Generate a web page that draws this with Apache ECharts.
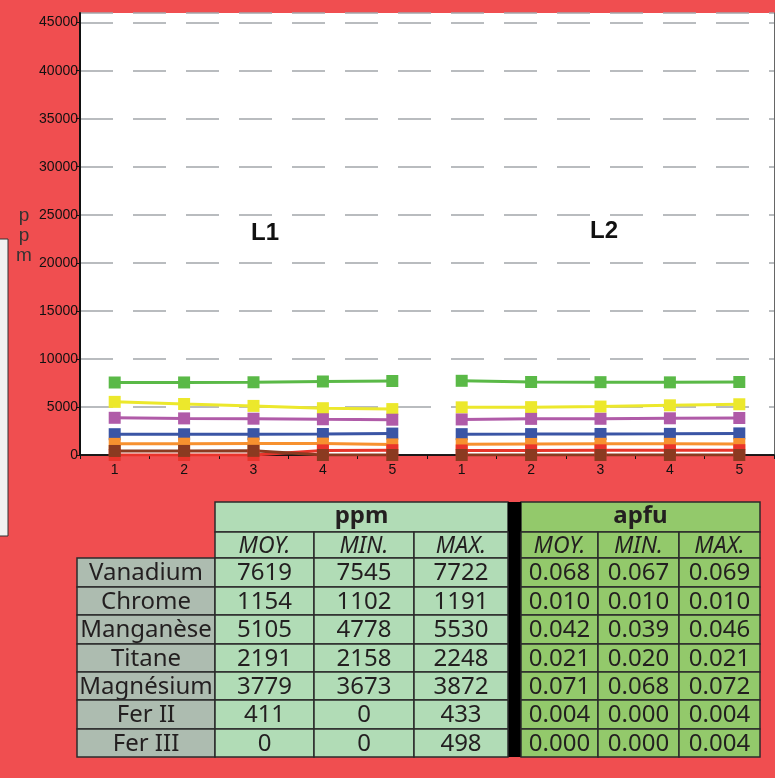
<!DOCTYPE html>
<html>
<head>
<meta charset="utf-8">
<script src="https://cdn.jsdelivr.net/npm/echarts@6/dist/echarts.min.js"></script>
<style>
  html, body { margin: 0; padding: 0; background: #f04e50; }
  #chart { width: 775px; height: 778px; }
</style>
</head>
<body>
<div id="chart"></div>
<script>
// categories (x axis): points 1..5 for L1 then 1..5 for L2
var categories = ['1', '2', '3', '4', '5', '1', '2', '3', '4', '5'];
var yTicks = [0, 5000, 10000, 15000, 20000, 25000, 30000, 35000, 40000, 45000];

// ppm values read from the profiles
var vanadiumL1 = [7545, 7550, 7570, 7650, 7700];
var vanadiumL2 = [7722, 7600, 7580, 7560, 7600];
var chromeL1 = [1160, 1180, 1191, 1185, 1102];
var chromeL2 = [1120, 1150, 1165, 1160, 1140];
var manganeseL1 = [5530, 5310, 5110, 4870, 4778];
var manganeseL2 = [4960, 4980, 5040, 5170, 5280];
var titaneL1 = [2165, 2158, 2170, 2185, 2230];
var titaneL2 = [2170, 2175, 2190, 2200, 2248];
var magnesiumL1 = [3872, 3810, 3780, 3720, 3673];
var magnesiumL2 = [3700, 3760, 3770, 3820, 3850];
var fer3L1 = [0, 0, 0, 480, 498];
var fer3L2 = [470, 480, 485, 490, 498];
var fer2L1 = [420, 425, 433, 0, 0];
var fer2L2 = [0, 0, 0, 0, 0];

// table
var tableRows = ['Vanadium', 'Chrome', 'Manganèse', 'Titane', 'Magnésium', 'Fer II', 'Fer III'];
var subHeads = ['MOY.', 'MIN.', 'MAX.'];
var ppmMoy = [7619, 1154, 5105, 2191, 3779, 411, 0];
var ppmMin = [7545, 1102, 4778, 2158, 3673, 0, 0];
var ppmMax = [7722, 1191, 5530, 2248, 3872, 433, 498];
var apfuMoy = ['0.068', '0.010', '0.042', '0.021', '0.071', '0.004', '0.000'];
var apfuMin = ['0.067', '0.010', '0.039', '0.020', '0.068', '0.000', '0.000'];
var apfuMax = ['0.069', '0.010', '0.046', '0.021', '0.072', '0.004', '0.004'];

var chart = echarts.init(document.getElementById('chart'));

var pad = [null, null, null, null, null];
function profile(name, color, l1, l2) {
  var base = {
    name: name, type: 'line', symbol: 'rect', symbolSize: 12,
    itemStyle: { color: color }, lineStyle: { color: color, width: 3 },
    animation: false
  };
  return [
    Object.assign({}, base, { data: l1.concat(pad) }),
    Object.assign({}, base, { data: pad.concat(l2) })
  ];
}

var series = [].concat(
  profile('Vanadium', '#5ab947', vanadiumL1, vanadiumL2),
  profile('Manganèse', '#ece82c', manganeseL1, manganeseL2),
  profile('Magnésium', '#b05ba8', magnesiumL1, magnesiumL2),
  profile('Titane', '#3a55a5', titaneL1, titaneL2),
  profile('Chrome', '#f7912f', chromeL1, chromeL2),
  profile('Fer III', '#e9342b', fer3L1, fer3L2),
  profile('Fer II', '#8b3a20', fer2L1, fer2L2)
);

// table graphics
var colX = [77, 215, 314, 414, 508, 521, 598, 679, 760];
var rowY = [502, 532, 558, 587, 615, 644, 672, 700, 729, 757];
var lblFill = '#adbcb0', ppmFill = '#b1dcb6', apfuFill = '#93c96b', lineCol = '#2b2b2b';
var txtCol = '#231f20';
var g = [];
function rect(x, y, w, h, fill) {
  g.push({ type: 'rect', shape: { x: x, y: y, width: w, height: h },
    style: { fill: fill, stroke: lineCol, lineWidth: 1.5 } });
}
function txt(s, cx, cy, font) {
  g.push({ type: 'text', style: { text: String(s), x: cx, y: cy, align: 'center', verticalAlign: 'middle',
    textAlign: 'center', textVerticalAlign: 'middle', font: font, fill: txtCol } });
}
var dataFont = '24px "Noto Sans"';
// headers
rect(colX[1], rowY[0], colX[4] - colX[1], rowY[1] - rowY[0], ppmFill);
txt('ppm', (colX[1] + colX[4]) / 2, (rowY[0] + rowY[1]) / 2 - 1, 'bold 24px "Noto Sans"');
rect(colX[5], rowY[0], colX[8] - colX[5], rowY[1] - rowY[0], apfuFill);
txt('apfu', (colX[5] + colX[8]) / 2, (rowY[0] + rowY[1]) / 2 - 1, 'bold 24px "Noto Sans"');
g.push({ type: 'rect', shape: { x: colX[4], y: rowY[0], width: colX[5] - colX[4], height: rowY[9] - rowY[0] },
  style: { fill: '#000' } });
for (var c = 0; c < 3; c++) {
  rect(colX[1 + c], rowY[1], colX[2 + c] - colX[1 + c], rowY[2] - rowY[1], ppmFill);
  txt(subHeads[c], (colX[1 + c] + colX[2 + c]) / 2, (rowY[1] + rowY[2]) / 2 + 1, 'italic 23px "Noto Sans"');
  rect(colX[5 + c], rowY[1], colX[6 + c] - colX[5 + c], rowY[2] - rowY[1], apfuFill);
  txt(subHeads[c], (colX[5 + c] + colX[6 + c]) / 2, (rowY[1] + rowY[2]) / 2 + 1, 'italic 23px "Noto Sans"');
}
var ppmCols = [ppmMoy, ppmMin, ppmMax], apfuCols = [apfuMoy, apfuMin, apfuMax];
for (var r = 0; r < tableRows.length; r++) {
  var y0 = rowY[2 + r], y1 = rowY[3 + r], cy = (y0 + y1) / 2 + 1;
  rect(colX[0], y0, colX[1] - colX[0], y1 - y0, lblFill);
  txt(tableRows[r], (colX[0] + colX[1]) / 2, cy, dataFont);
  for (var k = 0; k < 3; k++) {
    rect(colX[1 + k], y0, colX[2 + k] - colX[1 + k], y1 - y0, ppmFill);
    txt(ppmCols[k][r], (colX[1 + k] + colX[2 + k]) / 2, cy, dataFont);
    rect(colX[5 + k], y0, colX[6 + k] - colX[5 + k], y1 - y0, apfuFill);
    txt(apfuCols[k][r], (colX[5 + k] + colX[6 + k]) / 2, cy, dataFont);
  }
}
// clipped legend box on the left edge
g.push({ type: 'rect', shape: { x: -2, y: 239, width: 10, height: 297 },
  style: { fill: '#f2f2f0', stroke: '#333', lineWidth: 1 } });
// y axis title
g.push({ type: 'text', style: { text: 'p\np\nm', x: 24, y: 206, align: 'center', textAlign: 'center',
  font: '19px "Liberation Sans"', lineHeight: 20, fill: '#333' } });
// panel titles
g.push({ type: 'text', style: { text: 'L1', x: 265, y: 233, align: 'center', verticalAlign: 'middle',
  textAlign: 'center', textVerticalAlign: 'middle', font: 'bold 24px "Liberation Sans"', fill: '#111' } });
g.push({ type: 'text', style: { text: 'L2', x: 604, y: 231, align: 'center', verticalAlign: 'middle',
  textAlign: 'center', textVerticalAlign: 'middle', font: 'bold 24px "Liberation Sans"', fill: '#111' } });

var option = {
  backgroundColor: '#f04e50',
  animation: false,
  grid: { left: 80, right: 1, top: 13, bottom: 323, show: true, backgroundColor: '#fff', borderWidth: 0 },
  xAxis: [{
    type: 'category', data: categories, boundaryGap: true, position: 'bottom',
    axisLine: { lineStyle: { color: '#111', width: 1.5 } },
    axisTick: { show: true, length: 4, lineStyle: { color: '#111' } },
    axisLabel: { color: '#111', fontSize: 14, fontFamily: 'Liberation Sans', margin: 8 },
    splitLine: { show: false }
  }, {
    type: 'category', data: categories, position: 'top',
    axisLine: { lineStyle: { color: '#111', width: 1.5 } },
    axisTick: { show: false }, axisLabel: { show: false }
  }],
  yAxis: [{
    type: 'value', min: 0, max: 46000, interval: 5000,
    axisLine: { show: true, lineStyle: { color: '#111', width: 2 } },
    axisTick: { show: true, length: 4, lineStyle: { color: '#111' } },
    axisLabel: {
      color: '#111', fontSize: 14, fontFamily: 'Liberation Sans', margin: 2, showMaxLabel: false,
      formatter: function (v) { return yTicks.indexOf(v) >= 0 ? String(v) : ''; }
    },
    splitLine: { show: true, lineStyle: { color: '#a3a7ab', width: 1.5, type: [33, 20] } }
  }, {
    type: 'value', min: 0, max: 46000, position: 'right',
    axisLine: { show: true, lineStyle: { color: '#666', width: 1 } },
    axisTick: { show: false }, axisLabel: { show: false }, splitLine: { show: false }
  }],
  series: series,
  graphic: g
};
chart.setOption(option);
</script>
</body>
</html>
